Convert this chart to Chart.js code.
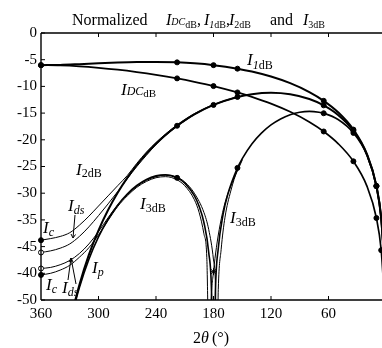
<!DOCTYPE html>
<html>
<head>
<meta charset="utf-8">
<script src="https://cdn.jsdelivr.net/npm/chart.js@4/dist/chart.umd.min.js"></script>
<style>
  html, body { margin: 0; padding: 0; overflow: hidden; background: #fff; }
  canvas { display: block; }
</style>
</head>
<body>
<canvas id="chart" width="400" height="348"></canvas>
<script>
// y tick labels as printed in the figure (note the swapped -45 / -40)
const yTickValues = [0, -5, -10, -15, -20, -25, -30, -35, -40, -45, -50];
const yTickText = ['0', '-5', '-10', '-15', '-20', '-25', '-30', '-35', '-45', '-40', '-50'];

// I_DC and I_1 (dB) vs conduction angle 2θ (°)
const angleA = [360, 340, 320, 300, 280, 260, 240, 218, 200, 180, 155, 140, 120, 100, 80, 65, 50, 34, 20, 10, 5, 2];
const iDC = [-6.02, -6.08, -6.25, -6.52, -6.87, -7.31, -7.83, -8.50, -9.14, -9.94, -11.13, -11.96, -13.23, -14.76, -16.66, -18.44, -20.70, -24.03, -28.63, -34.65, -40.67, -48.63];
const i1 = [-6.02, -5.97, -5.83, -5.67, -5.53, -5.43, -5.41, -5.50, -5.68, -6.02, -6.68, -7.22, -8.16, -9.40, -11.06, -12.70, -14.84, -18.09, -22.64, -28.62, -34.65, -42.6];

// I_2 (thick curve, I_p)
const angleB = [330, 326, 320, 310, 300, 290, 280, 270, 260, 250, 240, 230, 218, 210, 200, 180, 155, 140, 120, 100, 80, 65, 50, 34, 20, 10, 5, 2];
const i2 = [-54.56, -51.34, -47.18, -41.51, -36.95, -33.15, -29.92, -27.14, -24.72, -22.60, -20.74, -19.09, -17.37, -16.37, -15.25, -13.47, -11.97, -11.45, -11.19, -11.47, -12.36, -13.55, -15.34, -18.32, -22.72, -28.65, -34.7, -42.6];

// I_3 (thick curve, I_p)
const angleC = [330, 326, 320, 310, 300, 290, 280, 270, 260, 250, 240, 230, 218, 210, 200, 195, 190, 185, 182, 180, 178, 175, 170, 165, 155, 150, 140, 130, 120, 110, 100, 90, 80, 70, 65, 50, 34, 20, 10, 5, 2];
const i3 = [-54.86, -51.73, -47.72, -42.37, -38.19, -34.88, -32.24, -30.15, -28.56, -27.43, -26.76, -26.57, -27.12, -28.11, -30.46, -32.44, -35.48, -41.07, -48.78, -70, -48.48, -40.31, -33.97, -30.16, -25.26, -23.51, -20.77, -18.74, -17.21, -16.09, -15.31, -14.84, -14.68, -14.83, -15.03, -16.20, -18.71, -22.85, -28.7, -34.7, -42.6];

// I_2 for I_c and I_ds
const angleD = [360, 350, 340, 330, 320, 310, 300, 290, 280, 270, 260, 250, 240, 230, 218, 200, 180, 155];
const i2c = [-38.8, -38.5, -38.1, -37.4, -36.0, -34.3, -32.4, -30.5, -28.6, -26.7, -24.4, -22.3, -20.5, -18.9, -17.2, -15.1, -13.4, -11.9];
const i2ds = [-41.1, -40.8, -40.3, -39.5, -38.1, -36.3, -34.2, -32.0, -29.7, -27.3, -25.0, -22.9, -20.9, -19.2, -17.5, -15.3, -13.5, -12.0];

// I_3 for I_ds
const angleE = [360, 350, 340, 330, 320, 310, 300, 290, 280, 270, 260, 250, 240, 230, 218, 210, 200, 190, 185, 180, 178, 176.5, 175, 172, 168, 162, 155, 150];
const i3ds = [-44.1, -43.9, -43.4, -42.6, -41.3, -39.5, -37.2, -34.6, -32.2, -30.3, -28.7, -27.6, -26.9, -26.6, -27.0, -27.9, -30.0, -33.6, -36.8, -42.5, -47, -62, -48, -40.5, -34.5, -29.6, -25.6, -23.6];

// I_3 for I_c
const angleF = [360, 350, 340, 330, 320, 310, 300, 290, 280, 270, 260, 250, 240, 230, 218, 210, 200, 195, 190, 187, 184.5, 182.5, 180, 177, 173, 168, 160, 155, 150];
const i3c = [-45.3, -45.0, -44.4, -43.5, -42.0, -40.2, -37.8, -35.1, -32.5, -30.5, -28.9, -27.8, -27.1, -26.9, -27.5, -28.6, -31.2, -33.6, -37.6, -42.0, -62, -50, -44.7, -40.2, -35.8, -31.8, -27.8, -25.8, -23.8];

// marked points
const marksDC = [360, 218, 180, 155, 65, 34, 10, 5];
const marks1 = [360, 218, 180, 155, 65, 34, 10];
const marks2 = [218, 180, 155, 65, 34, 10];
const marks3 = [218, 155, 65, 34, 10];

const serif = '"Liberation Serif", "Times New Roman", serif';

function series(angles, values, marks, width, extra) {
  return Object.assign({
    data: angles.map((a, i) => ({ x: a, y: values[i] })),
    borderColor: '#000',
    backgroundColor: '#000',
    borderWidth: width,
    pointRadius: angles.map(a => marks.includes(a) ? 2.5 : 0),
    pointBorderWidth: 1,
    pointBorderColor: '#000',
    pointBackgroundColor: '#000',
    pointHoverRadius: 0,
    cubicInterpolationMode: 'monotone',
    clip: { left: 6, top: 0, right: 0, bottom: 0 }
  }, extra || {});
}

function drawRich(ctx, x, y, parts) {
  parts.forEach(p => {
    ctx.font = p[1] + ' ' + serif;
    ctx.fillText(p[0], x, y + (p[2] || 0));
    x += ctx.measureText(p[0]).width;
  });
}

const decorations = {
  id: 'decorations',
  afterDraw(chart) {
    const ctx = chart.ctx;
    const { left, right, top, bottom } = chart.chartArea;
    const xs = chart.scales.x, ys = chart.scales.y;
    ctx.save();
    ctx.strokeStyle = '#000';
    ctx.fillStyle = '#000';
    ctx.lineWidth = 1.4;
    ctx.beginPath();
    ctx.moveTo(left, top); ctx.lineTo(right, top);
    ctx.moveTo(left, top); ctx.lineTo(left, bottom);
    ctx.moveTo(left, bottom); ctx.lineTo(right, bottom);
    ctx.moveTo(right, top); ctx.lineTo(right, bottom);
    ctx.stroke();

    ctx.lineWidth = 1;
    ctx.beginPath();
    yTickValues.forEach(v => {
      const py = ys.getPixelForValue(v);
      ctx.moveTo(left, py); ctx.lineTo(left + 4, py);
    });
    [300, 240, 180, 120, 60].forEach(a => {
      const px = xs.getPixelForValue(a);
      ctx.moveTo(px, bottom); ctx.lineTo(px, bottom - 4);
      ctx.moveTo(px, top); ctx.lineTo(px, top + 4);
    });
    // pointers from the I_ds labels
    ctx.moveTo(75, 215); ctx.lineTo(73, 238);
    ctx.moveTo(71, 234); ctx.lineTo(73, 238); ctx.lineTo(75.5, 234.5);
    ctx.moveTo(68, 280); ctx.lineTo(71, 258);
    ctx.moveTo(76, 284); ctx.lineTo(71, 258);
    ctx.moveTo(69, 262); ctx.lineTo(71, 258); ctx.lineTo(73, 262);
    ctx.stroke();

    ctx.textAlign = 'left';
    ctx.textBaseline = 'alphabetic';
    // title
    drawRich(ctx, 72, 25, [['Normalized', '16px']]);
    drawRich(ctx, 166, 25, [['I', 'italic 16px'], ['DC', 'italic 10px'], ['dB', '10px', 3], [',', '16px']]);
    drawRich(ctx, 204, 25, [['I', 'italic 16px'], ['1', 'italic 10px', 3], ['dB', '10px', 3], [',', '16px']]);
    drawRich(ctx, 229, 25, [['I', 'italic 16px'], ['2dB', '10px', 3]]);
    drawRich(ctx, 270, 25, [['and', '16px']]);
    drawRich(ctx, 303, 25, [['I', 'italic 16px'], ['3dB', '10px', 3]]);

    // curve labels
    drawRich(ctx, 247, 65, [['I', 'italic 17px'], ['1', 'italic 12px', 3.5], ['dB', '12px', 3.5]]);
    drawRich(ctx, 121, 95, [['I', 'italic 17px'], ['DC', 'italic 12px'], ['dB', '11px', 2]]);
    drawRich(ctx, 76, 175, [['I', 'italic 17px'], ['2dB', '12px', 2]]);
    drawRich(ctx, 140, 209, [['I', 'italic 17px'], ['3dB', '12px', 3]]);
    drawRich(ctx, 230, 223, [['I', 'italic 17px'], ['3dB', '12px', 3]]);
    drawRich(ctx, 43, 233, [['I', 'italic 17px'], ['c', 'italic 12px', 3]]);
    drawRich(ctx, 68, 211, [['I', 'italic 17px'], ['ds', 'italic 12px', 3]]);
    drawRich(ctx, 46, 290, [['I', 'italic 17px'], ['c', 'italic 12px', 3]]);
    drawRich(ctx, 62, 293, [['I', 'italic 17px'], ['ds', 'italic 12px', 3]]);
    drawRich(ctx, 92, 273, [['I', 'italic 17px'], ['p', 'italic 12px', 3]]);

    // axis title
    drawRich(ctx, 193, 343, [['2', '16px'], ['θ', 'italic 16px']]);
    drawRich(ctx, 212, 343, [['(°)', '16px']]);
    ctx.restore();
  }
};

new Chart(document.getElementById('chart'), {
  type: 'line',
  data: {
    datasets: [
      series(angleA, i1, marks1, 2),
      series(angleA, iDC, marksDC, 1.7),
      series(angleB, i2, marks2, 2),
      series(angleC, i3, marks3, 1.6),
      series(angleD, i2c, [360], 1),
      series(angleD, i2ds, [360], 1, { pointBackgroundColor: '#fff' }),
      series(angleE, i3ds, [360], 1, { pointBackgroundColor: '#fff' }),
      series(angleF, i3c, [360, 180], 1, {
        pointStyle: angleF.map(a => a === 180 ? 'star' : 'circle'),
        pointRadius: angleF.map(a => a === 180 ? 3.5 : (a === 360 ? 2.5 : 0))
      })
    ]
  },
  options: {
    responsive: false,
    animation: false,
    events: [],
    layout: { padding: { top: 33, right: 14, left: 0, bottom: 0 } },
    plugins: { legend: { display: false }, tooltip: { enabled: false } },
    scales: {
      x: {
        type: 'linear',
        reverse: true,
        min: 0,
        max: 360,
        ticks: { stepSize: 60, padding: 5, color: '#000', font: { family: serif, size: 15 } },
        grid: { display: false, drawTicks: false },
        border: { display: false },
        afterFit: s => { s.height = 48; }
      },
      y: {
        min: -50,
        max: 0,
        ticks: {
          stepSize: 5,
          padding: 4,
          color: '#000',
          font: { family: serif, size: 15 },
          callback: v => yTickText[yTickValues.indexOf(v)]
        },
        grid: { display: false, drawTicks: false },
        border: { display: false },
        afterFit: s => { s.width = 41; }
      }
    }
  },
  plugins: [decorations]
});
</script>
</body>
</html>
